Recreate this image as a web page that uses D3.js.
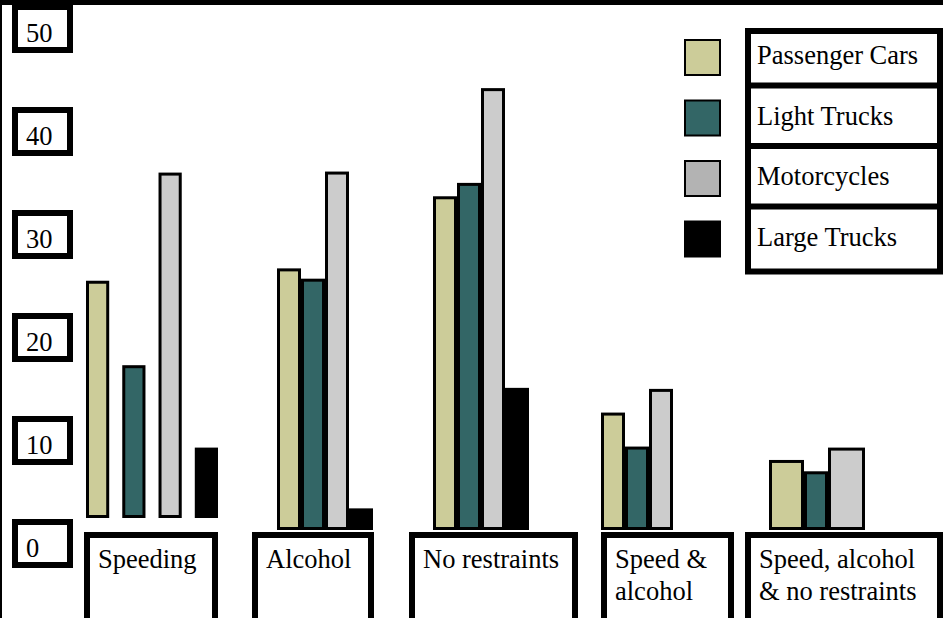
<!DOCTYPE html>
<html>
<head>
<meta charset="utf-8">
<script src="https://cdn.jsdelivr.net/npm/d3@7/dist/d3.min.js"></script>
<style>
  html, body { margin: 0; padding: 0; background: #fff; }
  svg { display: block; }
</style>
</head>
<body>
<svg id="chart" width="948" height="618"></svg>
<script>
// Share of drivers in fatal crashes, by contributing factor and vehicle type (%)
const categories = ["Speeding", "Alcohol", "No restraints", "Speed & alcohol", "Speed, alcohol & no restraints"];
const categoryLines = [["Speeding"], ["Alcohol"], ["No restraints"], ["Speed &", "alcohol"], ["Speed, alcohol", "& no restraints"]];
const vehicleTypes = ["Passenger Cars", "Light Trucks", "Motorcycles", "Large Trucks"];
const passengerCars = [24.2, 25.4, 32.4, 11.4, 6.8];
const lightTrucks   = [16.0, 24.4, 33.7, 8.1, 5.7];
const motorcycles   = [34.7, 34.8, 42.9, 13.7, 8.0];
const largeTrucks   = [8.0, 2.1, 13.8, null, null];
const yTicks = [0, 10, 20, 30, 40, 50];

const series = [passengerCars, lightTrucks, motorcycles, largeTrucks];
const barColors = ["#cccc99", "#336666", "#cccccc", "#000000"];
const swatchColors = ["#cccc99", "#336666", "#b3b3b3", "#000000"];

// Layout of each category group: bar span, inner padding, relative bar widths, baseline lift
const groupLayout = [
  { x0: 86,  x1: 218, pad: 0.36, lift: 12 },
  { x0: 277, x1: 373, pad: 0,    lift: 0 },
  { x0: 433, x1: 529, pad: 0,    lift: 0 },
  { x0: 601, x1: 673, pad: 0,    lift: 0 },
  { x0: 769, x1: 865, pad: 0,    lift: 0, weights: [35, 24, 37] }
];
const labelBoxes = [[84, 218], [252, 374], [409, 578], [601, 734], [745, 943]];

const FONT = "'Liberation Serif', 'Times New Roman', Times, 'DejaVu Serif', serif";
const svg = d3.select("#chart")
  .attr("font-family", FONT)
  .attr("font-size", 26.5);
const W = 948, H = 618;
svg.append("rect").attr("width", W).attr("height", H).attr("fill", "#fff");

const y = d3.scaleLinear().domain([0, 50]).range([530, 15]);
const BAR_STROKE = 3;

function label(g, x, yy, str) {
  return g.append("text")
    .attr("x", x).attr("y", yy)
    .style("font-family", FONT)
    .style("font-size", "26.5px")
    .attr("fill", "#000")
    .text(str);
}

// Bars
const gBars = svg.append("g");
categories.forEach((cat, ci) => {
  const L = groupLayout[ci];
  const present = vehicleTypes.map((v, si) => ({ si, v, value: series[si][ci] }))
    .filter(d => d.value != null);
  let xs;
  if (L.weights) {
    const cum = [0];
    L.weights.forEach(w => cum.push(cum[cum.length - 1] + w));
    const xw = d3.scaleLinear().domain([0, cum[cum.length - 1]]).range([L.x0, L.x1]);
    xs = present.map((d, i) => [xw(cum[i]), xw(cum[i + 1])]);
  } else {
    const band = d3.scaleBand().domain(present.map(d => d.v)).range([L.x0, L.x1]).paddingInner(L.pad);
    xs = present.map(d => [band(d.v), band(d.v) + band.bandwidth()]);
  }
  present.forEach((d, i) => {
    const top = y(d.value) + BAR_STROKE / 2;
    const bottom = y(0) - L.lift - BAR_STROKE / 2;
    gBars.append("rect")
      .attr("x", xs[i][0] + BAR_STROKE / 2)
      .attr("y", top)
      .attr("width", xs[i][1] - xs[i][0] - BAR_STROKE)
      .attr("height", Math.max(0, bottom - top))
      .attr("fill", barColors[d.si])
      .attr("stroke", "#000")
      .attr("stroke-width", BAR_STROKE);
  });
});

// Category label boxes
const BOX_STROKE = 6;
const boxTop = 532;
const gCats = svg.append("g");
labelBoxes.forEach((b, ci) => {
  gCats.append("rect")
    .attr("x", b[0] + BOX_STROKE / 2)
    .attr("y", boxTop + BOX_STROKE / 2)
    .attr("width", b[1] - b[0] - BOX_STROKE)
    .attr("height", 200)
    .attr("fill", "#fff")
    .attr("stroke", "#000")
    .attr("stroke-width", BOX_STROKE);
  categoryLines[ci].forEach((line, li) => {
    label(gCats, b[0] + 14, 568 + li * 32, line);
  });
});

// Value axis: boxed tick labels
const gTicks = svg.append("g");
yTicks.forEach(v => {
  const top = y(v) - 11;
  gTicks.append("rect")
    .attr("x", 12 + BOX_STROKE / 2)
    .attr("y", top + BOX_STROKE / 2)
    .attr("width", 61 - BOX_STROKE)
    .attr("height", 49 - BOX_STROKE)
    .attr("fill", "#fff")
    .attr("stroke", "#000")
    .attr("stroke-width", BOX_STROKE);
  label(gTicks, 26, top + 38, String(v));
});

// Legend
const legendY = d3.scaleLinear().domain([0, 1]).range([39, 99.5]);
const gLeg = svg.append("g");
vehicleTypes.forEach((name, i) => {
  const sy = legendY(i);
  const top = i === 0 ? 28 : sy - 17;
  const bottom = sy + 54;
  gLeg.append("rect")
    .attr("x", 745 + BOX_STROKE / 2)
    .attr("y", top + BOX_STROKE / 2)
    .attr("width", 198 - BOX_STROKE)
    .attr("height", bottom - top - BOX_STROKE)
    .attr("fill", "#fff")
    .attr("stroke", "#000")
    .attr("stroke-width", BOX_STROKE);
});
vehicleTypes.forEach((name, i) => {
  const sy = legendY(i);
  gLeg.append("rect")
    .attr("x", 685).attr("y", sy + 1)
    .attr("width", 35).attr("height", 35)
    .attr("fill", swatchColors[i])
    .attr("stroke", "#000").attr("stroke-width", 2);
  label(gLeg, 757, sy + 25, name);
});

// Frame: top rule and left edge
svg.append("rect").attr("x", 0).attr("y", 0).attr("width", 943).attr("height", 5).attr("fill", "#000");
svg.append("rect").attr("x", 0).attr("y", 0).attr("width", 2).attr("height", H).attr("fill", "#000");
</script>
</body>
</html>
